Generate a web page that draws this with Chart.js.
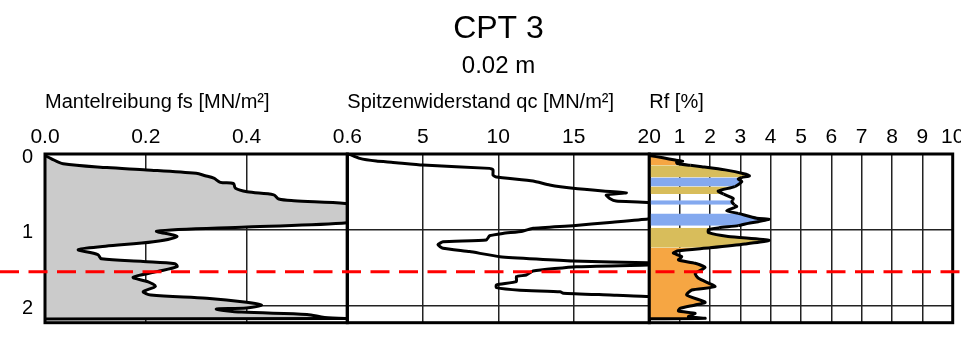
<!DOCTYPE html>
<html><head><meta charset="utf-8">
<script src="https://cdn.jsdelivr.net/npm/chart.js@4/dist/chart.umd.min.js"></script>
<style>
html,body{margin:0;padding:0;background:#fff;overflow:hidden;}
#wrap{position:relative;width:961px;height:355px;overflow:hidden;}
canvas{position:absolute;left:0;top:0;}
</style></head><body>
<div id="wrap">
<canvas id="cFs" width="997" height="355"></canvas>
<canvas id="cQc" width="961" height="355"></canvas>
<canvas id="cRf" width="961" height="355"></canvas>
</div>
<script>
// ---------- data ----------
const chartTitle = 'CPT 3';
const chartSubtitle = '0.02 m';
const fsTitle = 'Mantelreibung fs [MN/m²]';
const qcTitle = 'Spitzenwiderstand qc [MN/m²]';
const rfTitle = 'Rf [%]';

const depthMax = 2.23;
const waterDepth = 1.555;

const fsDepth = [0.02, 0.06, 0.13, 0.18, 0.21, 0.256, 0.287, 0.32, 0.375, 0.39, 0.454, 0.50, 0.54, 0.595, 0.617, 0.653, 0.72, 0.82, 0.91, 0.965, 1.02, 1.09, 1.16, 1.22, 1.265, 1.33, 1.385, 1.42, 1.45, 1.49, 1.555, 1.63, 1.69, 1.75, 1.82, 1.865, 1.908, 1.96, 1.996, 2.035, 2.05, 2.09, 2.12, 2.16, 2.175, 2.18];
const fsValue = [0.0, 0.012, 0.036, 0.123, 0.202, 0.30, 0.318, 0.335, 0.348, 0.374, 0.378, 0.401, 0.454, 0.464, 0.494, 0.596, 0.65, 0.65, 0.60, 0.40, 0.222, 0.262, 0.215, 0.12, 0.066, 0.105, 0.112, 0.195, 0.258, 0.262, 0.222, 0.175, 0.205, 0.219, 0.195, 0.21, 0.321, 0.40, 0.43, 0.40, 0.34, 0.39, 0.52, 0.555, 0.60, 0.0];

const qcDepth = [0.0, 0.058, 0.094, 0.111, 0.147, 0.19, 0.21, 0.279, 0.305, 0.358, 0.41, 0.454, 0.49, 0.513, 0.543, 0.587, 0.622, 0.64, 0.70, 0.80, 0.86, 0.904, 0.947, 0.983, 1.02, 1.05, 1.08, 1.137, 1.16, 1.20, 1.247, 1.29, 1.357, 1.415, 1.436, 1.45, 1.467, 1.49, 1.547, 1.60, 1.62, 1.687, 1.73, 1.766, 1.80, 1.82, 1.84, 1.864, 1.885, 1.95, 2.10, 2.18];
const qcValue = [0.1, 0.82, 1.92, 3.03, 5.0, 9.43, 9.65, 9.65, 9.87, 12.3, 13.4, 14.95, 16.93, 18.48, 17.15, 17.38, 17.8, 19.9, 21.5, 21.5, 19.9, 17.38, 14.95, 12.3, 11.6, 10.3, 9.43, 9.2, 6.34, 6.0, 6.34, 8.1, 10.1, 14.95, 19.9, 20.6, 19.9, 15.17, 12.3, 11.85, 11.2, 11.2, 9.87, 9.87, 11.44, 14.1, 14.3, 17.4, 19.9, 22, 23, 23];

const rfDepth = [0.02, 0.05, 0.08, 0.095, 0.11, 0.125, 0.15, 0.168, 0.21, 0.265, 0.29, 0.31, 0.33, 0.366, 0.43, 0.49, 0.53, 0.587, 0.61, 0.63, 0.67, 0.696, 0.75, 0.785, 0.85, 0.862, 0.895, 0.917, 0.947, 0.975, 1.0, 1.04, 1.09, 1.14, 1.19, 1.24, 1.28, 1.31, 1.357, 1.40, 1.445, 1.50, 1.577, 1.643, 1.753, 1.798, 1.864, 1.96, 1.996, 2.04, 2.075, 2.106, 2.15, 2.172, 2.178];
const rfValue = [0.0, 0.45, 0.85, 1.1, 0.9, 0.92, 1.35, 1.73, 2.5, 3.15, 3.3, 3.05, 2.93, 3.05, 2.82, 2.27, 2.45, 2.77, 2.75, 2.72, 2.8, 2.88, 2.55, 2.93, 3.54, 3.95, 3.59, 3.26, 2.93, 2.3, 1.95, 1.95, 2.6, 3.95, 3.15, 2.0, 0.96, 0.79, 1.07, 0.96, 1.51, 1.84, 1.51, 1.62, 2.17, 1.4, 1.23, 1.84, 1.51, 1.01, 0.96, 1.51, 1.29, 1.84, 0.0];

// soil classification bands (depth from / to, class)
const soilTop    = [0.0,  0.15, 0.31, 0.43, 0.53, 0.61, 0.67, 0.785, 0.947, 0.975, 1.24];
const soilBottom = [0.15, 0.31, 0.43, 0.53, 0.61, 0.67, 0.785, 0.947, 0.975, 1.24, 2.2];
const soilClass  = ['sand', 'silt', 'clay', 'silt', 'none', 'clay', 'none', 'clay', 'none', 'silt', 'sand'];

// ---------- styles ----------
const soilColors = {sand: '#f6a643', silt: '#d8bd5b', clay: '#84a9ef', none: 'rgba(255,255,255,0)'};
const FONT = "'Liberation Sans', Arial, sans-serif";
Chart.defaults.font.family = FONT;
Chart.defaults.color = '#000';

const W = 961, H = 355, W_FS = 997;
const PLOT_TOP = 154, PLOT_BOTTOM = 322.7;
const EDGES = [45, 347.3, 649.3, 952.7];
const HEADER = 90, AXIS_H = PLOT_TOP - HEADER;

function soilColorAt(d) {
  for (let i = 0; i < soilTop.length; i++) {
    if (d >= soilTop[i] && d < soilBottom[i]) return soilColors[soilClass[i]];
  }
  return soilColors.none;
}
function pts(depths, values) { return depths.map((d, i) => ({x: values[i], y: d})); }

function depthScale(showLabels, width) {
  return {
    type: 'linear', position: 'left', reverse: true, min: 0, max: depthMax,
    ticks: {display: showLabels, stepSize: 1, includeBounds: false, padding: 12, labelOffset: 3,
            font: {size: 20}, color: '#000'},
    grid: {color: '#222', lineWidth: 1.5, drawTicks: false},
    border: {display: false},
    afterFit: s => { s.width = width; }
  };
}
function valueScale(min, max, step, title, fmt) {
  return {
    type: 'linear', position: 'top', min, max,
    ticks: {stepSize: step, includeBounds: false, autoSkip: false, maxRotation: 0, minRotation: 0,
            padding: 4, font: {size: 21}, color: '#000', callback: fmt},
    grid: {color: '#222', lineWidth: 1.5, drawTicks: false},
    border: {display: false},
    title: {display: true, text: title, align: 'start', font: {size: 20}, color: '#000', padding: {top: 0.5, bottom: 0}},
    afterFit: s => { s.height = AXIS_H; s.paddingLeft = 0; s.paddingRight = 0; }
  };
}
function spacer(w) {
  return {type: 'linear', axis: 'y', position: 'right', display: true, min: 0, max: 1,
    grid: {display: false, drawTicks: false}, ticks: {display: false}, border: {display: false},
    afterFit: s => { s.width = w; }};
}
const framePlugin = {
  id: 'frame',
  afterDatasetsDraw(chart) {
    const {ctx, chartArea: a} = chart;
    ctx.save();
    ctx.strokeStyle = '#000'; ctx.lineWidth = 3;
    ctx.strokeRect(a.left, a.top, a.right - a.left, a.bottom - a.top);
    ctx.restore();
  }
};
const waterPlugin = {
  id: 'water',
  afterDraw(chart) {
    const ctx = chart.ctx;
    const y = chart.scales.y.getPixelForValue(waterDepth);
    ctx.save();
    ctx.setLineDash([19, 9.5]);
    ctx.strokeStyle = '#ff0000'; ctx.lineWidth = 3;
    ctx.beginPath(); ctx.moveTo(0, y); ctx.lineTo(chart.width, y); ctx.stroke();
    ctx.restore();
  }
};
const baseOpts = {indexAxis: 'y', responsive: false, animation: false, devicePixelRatio: 1, events: []};
const noPlug = {legend: {display: false}, tooltip: {enabled: false}};

// Mantelreibung
new Chart(document.getElementById('cFs'), {
  type: 'line',
  data: {datasets: [{data: pts(fsDepth, fsValue), borderColor: '#000', borderWidth: 3, pointRadius: 0,
    tension: 0.3, fill: {value: 0}, backgroundColor: '#cbcbcb'}]},
  options: Object.assign({}, baseOpts, {
    layout: {padding: {left: 0, right: 0, top: 0, bottom: H - PLOT_BOTTOM}},
    scales: {
      x: valueScale(0, 0.6, 0.2, fsTitle, v => Number(v).toFixed(1)),
      y: depthScale(true, EDGES[0]),
      yr: spacer(W_FS - EDGES[1])
    },
    plugins: Object.assign({}, noPlug, {
      title: {display: true, text: chartTitle, font: {size: 32, weight: 'normal'}, color: '#000', padding: {top: 9.8, bottom: 0}},
      subtitle: {display: true, text: chartSubtitle, font: {size: 24, weight: 'normal'}, color: '#000', padding: {top: 3.8, bottom: 9.2}}
    })
  }),
  plugins: [framePlugin]
});

// Spitzenwiderstand
new Chart(document.getElementById('cQc'), {
  type: 'line',
  data: {datasets: [{data: pts(qcDepth, qcValue), borderColor: '#000', borderWidth: 3, pointRadius: 0,
    tension: 0.15, fill: false}]},
  options: Object.assign({}, baseOpts, {
    layout: {padding: {left: EDGES[1], right: W - EDGES[2], top: HEADER, bottom: H - PLOT_BOTTOM}},
    scales: {
      x: valueScale(0, 20, 5, qcTitle, v => v === 0 ? '' : String(v)),
      y: depthScale(false, 0)
    },
    plugins: noPlug
  }),
  plugins: [framePlugin]
});

// Reibungsverhältnis
new Chart(document.getElementById('cRf'), {
  type: 'line',
  data: {datasets: [{data: pts(rfDepth, rfValue), borderColor: '#000', borderWidth: 3, pointRadius: 0,
    tension: 0.2, fill: {value: 0}, backgroundColor: 'rgba(255,255,255,0)',
    segment: {backgroundColor: c => soilColorAt((rfDepth[c.p0DataIndex] + rfDepth[c.p1DataIndex]) / 2)}}]},
  options: Object.assign({}, baseOpts, {
    layout: {padding: {left: EDGES[2], right: W - EDGES[3], top: HEADER, bottom: H - PLOT_BOTTOM}},
    scales: {
      x: valueScale(0, 10, 1, rfTitle, v => v === 0 ? '' : String(v)),
      y: depthScale(false, 0)
    },
    plugins: noPlug
  }),
  plugins: [framePlugin, waterPlugin]
});
</script>
</body></html>
